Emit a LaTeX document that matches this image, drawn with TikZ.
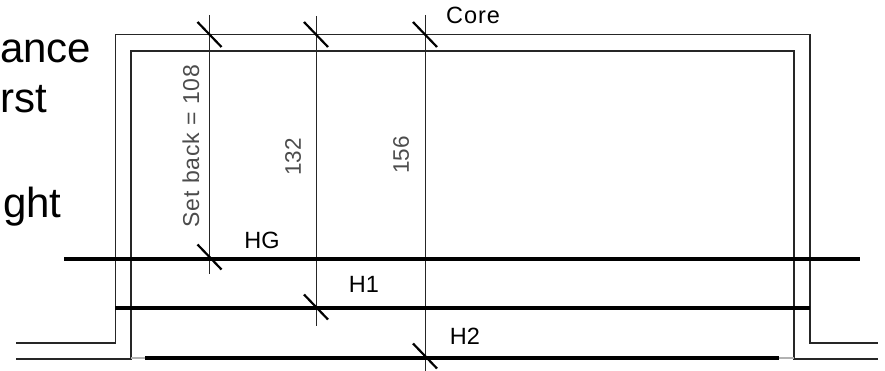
\documentclass[tikz,border=0pt]{standalone}
\usepackage{xcolor}
\usepackage{fontspec}
\setmainfont{Liberation Sans}
\usetikzlibrary{calc}

\definecolor{dimtext}{gray}{0.3}
\definecolor{stubgray}{gray}{0.7}

\tikzset{
  wall/.style={line width=1.6pt, black!85, line join=miter},
  dimline/.style={line width=1.4pt, black!85},
  tickmark/.style={line width=2.2pt, black},
  floorline/.style={line width=4.6pt, black},
  floorstub/.style={line width=2.4pt, stubgray},
  bigtext/.style={anchor=base west, inner sep=0pt, font=\fontsize{42}{42}\selectfont},
  floorname/.style={anchor=center, inner sep=0pt, font=\fontsize{23.5}{23.5}\selectfont},
  corename/.style={anchor=center, inner sep=0pt, font=\fontsize{23.5}{23.5}\selectfont\addfontfeatures{LetterSpace=4}},
  dimtxt/.style={anchor=center, inner sep=0pt, rotate=90, text=dimtext, font=\fontsize{22.5}{22.5}\selectfont},
  settxt/.style={dimtxt, font=\fontsize{23}{23}\selectfont\addfontfeatures{LetterSpace=3.7}},
}

\begin{document}
\begin{tikzpicture}[x=1pt, y=-1pt]
    \useasboundingbox (0,0) rectangle (885,371);

      \node[bigtext] (t1) at (0,63) {ance};
      \node[bigtext] (t2) at (0,113) {rst};
      \node[bigtext] (t3) at (3,218) {ght};

      \coordinate (ol) at (16,343);
      \coordinate (oa) at (115.3,343);
      \coordinate (ob) at (115.3,34.5);
      \coordinate (oc) at (809.7,34.5);
      \coordinate (od) at (809.7,343);
      \coordinate (or) at (878,343);

      \coordinate (il) at (16,359);
      \coordinate (ia) at (131,359);
      \coordinate (ib) at (131,51);
      \coordinate (ic) at (793.7,51);
      \coordinate (id) at (793.7,359);
      \coordinate (ir) at (878,359);

      \draw[wall] (ol) -- (oa) -- (ob) -- (oc) -- (od) -- (or);
      \draw[wall] (il) -- (ia) -- (ib) -- (ic) -- (id) -- (ir);

      \coordinate (d1t) at (209.5,15);
      \coordinate (d1b) at (209.5,274);
      \coordinate (d2t) at (316.5,16);
      \coordinate (d2b) at (316.5,326);
      \coordinate (d3t) at (425.5,15);
      \coordinate (d3b) at (425.5,371);

      \draw[dimline] (d1t) -- (d1b);
      \draw[dimline] (d2t) -- (d2b);
      \draw[dimline] (d3t) -- (d3b);

      \coordinate (hgl) at (64,259);
      \coordinate (hgr) at (860,259);
      \coordinate (h1l) at (115,308);
      \coordinate (h1r) at (810,308);
      \coordinate (h2l) at (145,358);
      \coordinate (h2r) at (779,358);
      \coordinate (sl) at (131,358);
      \coordinate (sr) at (794,358);

      \draw[floorstub] (sl) -- (h2l);
      \draw[floorstub] (h2r) -- (sr);
      \draw[floorline] (hgl) -- (hgr);
      \draw[floorline] (h1l) -- (h1r);
      \draw[floorline] (h2l) -- (h2r);

      \coordinate (c1) at (209.5,34.5);
      \coordinate (c2) at (316,34.5);
      \coordinate (c3) at (425,34.5);
      \coordinate (c4) at (209.5,257);
      \coordinate (c5) at (316,307);
      \coordinate (c6) at (425,356);

      \foreach \c in {c1,c2,c3,c4,c5,c6} {
        \coordinate (\c s) at ($(\c)+(-12,-12.5)$);
        \coordinate (\c e) at ($(\c)+(12,12.5)$);
        \draw[tickmark] (\c s) -- (\c e);
      }

      \node[settxt] (setback) at (191,146) {Set back = 108};
      \node[dimtxt] (dim132) at (293,157) {132};
      \node[dimtxt] (dim156) at (401,155) {156};

      \node[corename] (core) at (473,15) {Core};
      \node[floorname] (hg) at (262,240) {HG};
      \node[floorname] (h1) at (364,284) {H1};
      \node[floorname] (h2) at (465,336) {H2};
  \end{tikzpicture}
\end{document}
